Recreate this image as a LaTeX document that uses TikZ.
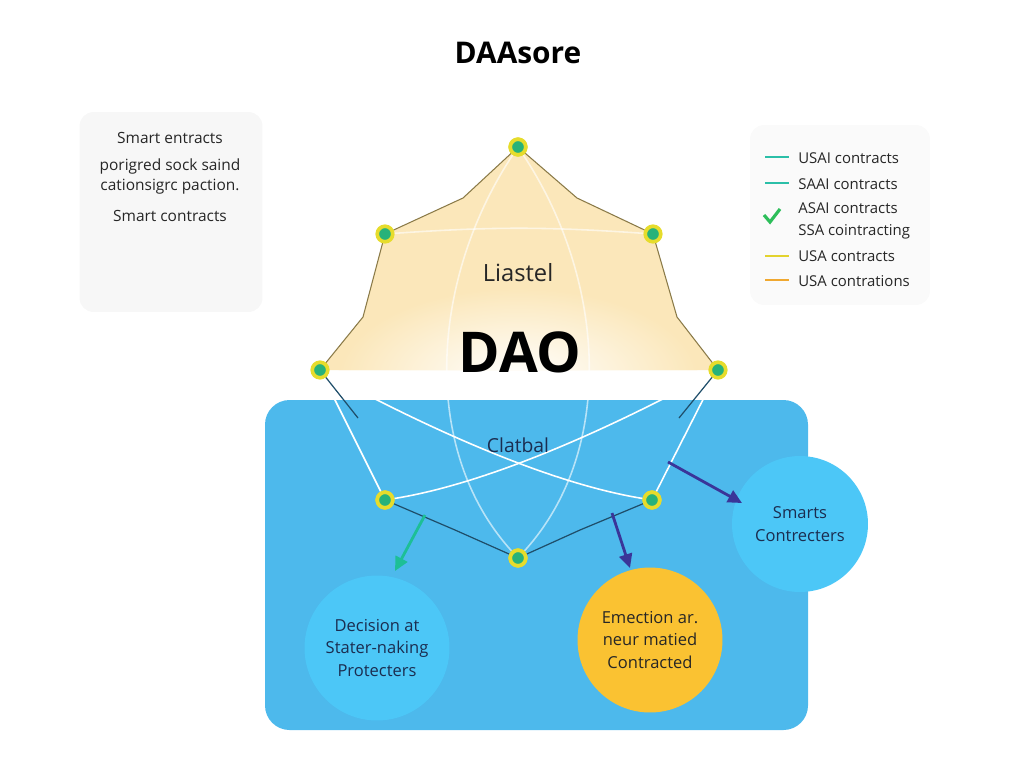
\documentclass[tikz,border=0pt]{standalone}
\usepackage{fontspec}
\setmainfont{Open Sans}
\usetikzlibrary{positioning, arrows.meta}

\definecolor{peach}{HTML}{FBE7BA}
\definecolor{rim}{HTML}{8A7A48}
\definecolor{boxblue}{HTML}{4DB9EC}
\definecolor{circblue}{HTML}{4CC7F7}
\definecolor{circorange}{HTML}{FAC232}
\definecolor{dotyellow}{HTML}{E6DC2C}
\definecolor{dotgreen}{HTML}{27B27A}
\definecolor{navy}{HTML}{1B2D50}
\definecolor{darkline}{HTML}{1F4E6A}
\definecolor{teal}{HTML}{2BBFA8}
\definecolor{checkgreen}{HTML}{2DBE5A}
\definecolor{legyellow}{HTML}{E3D32E}
\definecolor{legorange}{HTML}{F0A830}
\definecolor{arrgreen}{HTML}{1DBF96}
\definecolor{arrpurple}{HTML}{3A3599}

\begin{document}
\begin{tikzpicture}
	% style
	[x=0.02cm, y=-0.02cm,
	dot/.style={circle, draw=dotyellow, line width=2.1pt, fill=dotgreen, inner sep=0pt, minimum size=3.1mm},
	softbox/.style={rectangle, rounded corners=8pt, fill=black!3, draw=none},
	txt/.style={font=\fontsize{8.8}{10}\selectfont, text=black!85, inner sep=0pt},
	legtxt/.style={font=\fontsize{8.5}{10}\selectfont, text=black!85, anchor=west, inner sep=0pt},
	legdash/.style={line width=1.4pt},
	bubble/.style={circle, minimum size=2.9cm, inner sep=0pt, align=center, font=\fontsize{9.4}{12.8}\selectfont},
	whiteline/.style={white, line width=0.9pt},
	darkwire/.style={darkline, line width=0.7pt},
	pointer/.style={-{Triangle[length=2.8mm, width=2.6mm]}, line width=1.6pt}]

	\useasboundingbox (0,0) rectangle (1024,768);

	% title
	\node [font=\bfseries\fontsize{17}{20}\selectfont] (title) at (518,53) {DAAsore};

	% note box
	\node [softbox, minimum width=3.66cm, minimum height=4cm] (note) at (171,212) {};
	\node [txt] (note1) at (170,138) {Smart entracts};
	\node [txt] (note2) at (170,166) {porigred sock saind};
	\node [txt] (note3) at (170,187) {cationsigrc paction.};
	\node [txt] (note4) at (170,216) {Smart contracts};

	% legend
	\node [softbox, fill=black!2, minimum width=3.6cm, minimum height=3.6cm] (legend) at (840,215) {};
	\draw [legdash, teal] (765,157) -- (789,157);
	\node [legtxt] (leg1) at (798,158) {USAI contracts};
	\draw [legdash, teal] (765,183) -- (789,183);
	\node [legtxt] (leg2) at (798,184) {SAAI contracts};
	\draw [checkgreen, line width=1.8pt] (764,215) -- (770,222) -- (780,209);
	\node [legtxt] (leg3) at (798,208) {ASAI contracts};
	\node [legtxt] (leg4) at (798,232) {SSA cointracting};
	\draw [legdash, legyellow] (765,256) -- (789,256);
	\node [legtxt] (leg5) at (798,256) {USA contracts};
	\draw [legdash, legorange] (765,280) -- (789,280);
	\node [legtxt] (leg6) at (798,281) {USA contrations};

	% roof
	\fill [peach] (320,370) -- (363,317) -- (385,234) -- (463,198) -- (518,147) -- (577,198)
	      -- (653,234) -- (677,317) -- (718,370) -- cycle;
	\begin{scope}
	\clip (320,370) -- (363,317) -- (385,234) -- (463,198) -- (518,147) -- (577,198)
	      -- (653,234) -- (677,317) -- (718,370) -- cycle;
	\shade [inner color=white, outer color=peach] (518,378) ellipse (180 and 90);
	\end{scope}
	\draw [rim, line width=0.6pt] (320,370) -- (363,317) -- (385,234) -- (463,198) -- (518,147)
	      -- (577,198) -- (653,234) -- (677,317) -- (718,370);

	% base panel
	\fill [boxblue, rounded corners=14pt] (265,400) rectangle (808,730);

	% roof nodes
	\node [dot] (n_top) at (518,147) {};
	\node [dot] (n_ul) at (385,234) {};
	\node [dot] (n_ur) at (653,234) {};
	\node [dot] (n_l) at (320,370) {};
	\node [dot] (n_r) at (718,370) {};

	% base nodes
	\node [dot] (n_bl) at (385,500) {};
	\node [dot] (n_br) at (652,500) {};
	\node [dot] (n_b) at (518,558) {};

	\coordinate (kink_l) at (358,418);
	\coordinate (kink_r) at (679,418);

	% wires
	\path [whiteline, opacity=0.6] (n_ul) edge [bend left=4] (n_ur);
	\draw [whiteline, opacity=0.6] (n_top) .. controls (430,280) and (420,450) .. (n_b);
	\draw [whiteline, opacity=0.6] (n_top) .. controls (606,280) and (616,450) .. (n_b);
	\draw [whiteline] (n_l) .. controls (450,440) and (560,485) .. (n_br);
	\draw [whiteline] (n_r) .. controls (588,440) and (478,485) .. (n_bl);
	\path [whiteline] (n_l) edge (n_bl)
	                  (n_r) edge (n_br);
	\draw [darkwire] (n_l) -- (kink_l);
	\draw [darkwire] (n_r) -- (kink_r);
	\draw [darkwire] (n_bl) -- (455,530) -- (n_b);
	\draw [darkwire] (n_b) -- (580,530) -- (n_br);

	% redraw nodes on top
	\node [dot] at (n_top) {};
	\node [dot] at (n_bl) {};
	\node [dot] at (n_br) {};
	\node [dot] at (n_b) {};

	% labels
	\node [font=\fontsize{13.5}{16}\selectfont, text=black!85] (roof_lbl) at (518,273) {Liastel};
	\node [font=\bfseries\fontsize{32}{36}\selectfont] (dao) at (520,352) {DAO};
	\node [font=\fontsize{11}{13}\selectfont, text=navy] (base_lbl) at (518,445) {Clatbal};

	% bubbles
	\node [bubble, fill=circblue, text=navy] (decision) at (377,648) {Decision at\\Stater-naking\\Protecters};
	\node [bubble, fill=circorange, text=black!85] (emection) at (650,640) {Emection ar.\\neur matied\\Contracted};
	\node [bubble, fill=circblue, text=navy, minimum size=2.72cm] (smarts) at (800,524) {Smarts\\Contrecters};

	\coordinate (g_from) at (425,515);
	\coordinate (g_to) at (395,571);
	\coordinate (p_from) at (612,513);
	\coordinate (p_to) at (630,568);
	\coordinate (q_from) at (668,462);
	\coordinate (q_to) at (742,503);

	\path [pointer] (g_from) edge [arrgreen] (g_to)
	                (p_from) edge [arrpurple] (p_to)
	                (q_from) edge [arrpurple] (q_to);
\end{tikzpicture}
\end{document}
